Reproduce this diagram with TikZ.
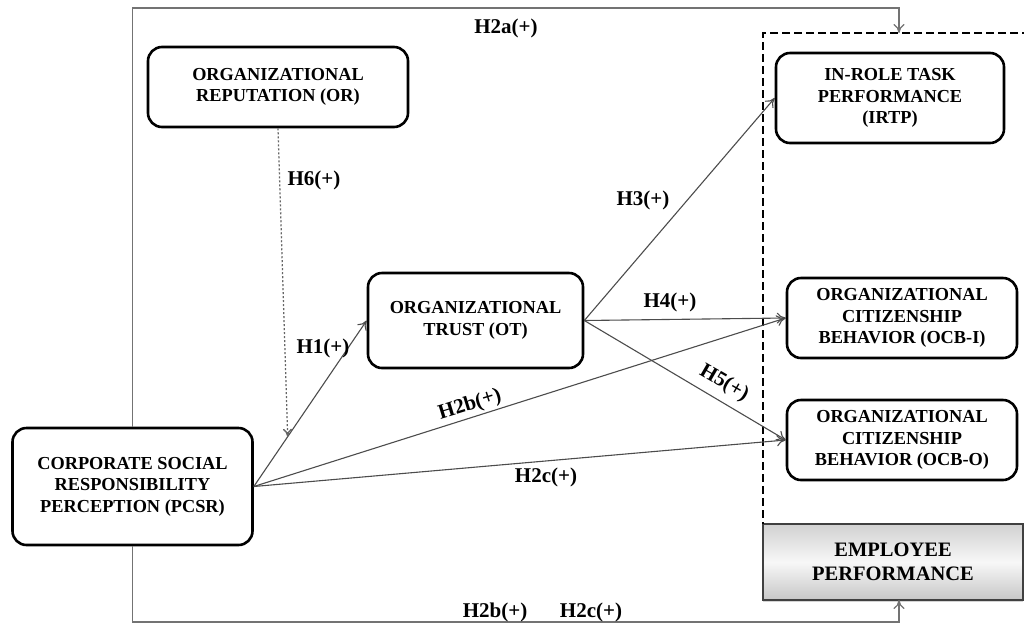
\documentclass[tikz,border=0pt]{standalone}
\usepackage{fontspec}
\setmainfont{Liberation Serif}
\usetikzlibrary{arrows.meta,shadows}
\begin{document}
\begin{tikzpicture}[x=1pt,y=-1pt,
  box/.style={draw=black,line width=2.6pt,rounded corners=14pt,fill=white,align=center,
    font=\fontsize{18.3}{21.5}\selectfont\bfseries,inner sep=2pt},
  conn/.style={draw=black!70,line width=1.1pt,-{To[length=9pt,width=11pt]}},
  frame/.style={draw=black!55,line width=1.2pt},
  lab/.style={font=\fontsize{21}{24}\selectfont\bfseries,inner sep=1pt},
  >={To[length=9pt,width=11pt]}]
\useasboundingbox (0,0) rectangle (1024,625);
% nodes
\node[box,minimum width=260pt,minimum height=80pt] (OR) at (278,87) {ORGANIZATIONAL\\REPUTATION (OR)};
\node[box,minimum width=240pt,minimum height=117pt] (PCSR) at (132.5,486.5) {CORPORATE SOCIAL\\RESPONSIBILITY\\PERCEPTION (PCSR)};
\node[box,minimum width=215pt,minimum height=95pt] (OT) at (475.5,320.5) {ORGANIZATIONAL\\TRUST (OT)};
\node[box,minimum width=228pt,minimum height=90pt] (IRTP) at (890,98) {IN-ROLE TASK\\PERFORMANCE\\(IRTP)};
\node[box,minimum width=230pt,minimum height=80pt] (OCBI) at (902,318) {ORGANIZATIONAL\\CITIZENSHIP\\BEHAVIOR (OCB-I)};
\node[box,minimum width=230pt,minimum height=80pt] (OCBO) at (902,440) {ORGANIZATIONAL\\CITIZENSHIP\\BEHAVIOR (OCB-O)};
\node[draw=black!75,line width=1.2pt,minimum width=260pt,minimum height=76pt,
  top color=black!18,bottom color=black!22,middle color=black!3,
  drop shadow={shadow xshift=0pt,shadow yshift=-2pt,opacity=0.35},
  align=center,font=\fontsize{20.5}{24}\selectfont\bfseries] (EP) at (893,562) {EMPLOYEE\\PERFORMANCE};
% dashed group
\coordinate (dtop) at (899,33);
\draw[line width=2.8pt,dash pattern=on 8pt off 4pt] (1030,33) -- (763,33) -- (763,524);
% frame lines
\draw[frame,->] (PCSR.north) -- (132.5,8) -- (899,8) -- (dtop);
\draw[frame,->] (PCSR.south) -- (132.5,622) -- (899,622) -- (899,600);
% connectors
\draw[conn] (PCSR.east) -- (OT.west) coordinate[pos=0.3] (mod);
\draw[conn] (PCSR.east) -- (OCBI.west);
\draw[conn] (PCSR.east) -- (OCBO.west);
\draw[conn] (OT.east) -- (IRTP.west);
\draw[conn] (OT.east) -- (OCBI.west);
\draw[conn] (OT.east) -- (OCBO.west);
\draw[draw=black!60,line width=1.3pt,dash pattern=on 2pt off 2pt,-{To[length=8pt,width=9pt]}] (OR.south) -- (mod);
% labels
\node[lab] (l2a) at (506,28) {H2a(+)};
\node[lab] (l6) at (314,180) {H6(+)};
\node[lab] (l3) at (643,200) {H3(+)};
\node[lab] (l4) at (670,302) {H4(+)};
\node[lab] (l1) at (323,348) {H1(+)};
\node[lab,rotate=17] (l2b) at (470,405) {H2b(+)};
\node[lab,rotate=-30] (l5) at (724,383) {H5(+)};
\node[lab] (l2c) at (546,477) {H2c(+)};
\node[lab] (l2bb) at (495,612) {H2b(+)};
\node[lab] (l2cb) at (591,612) {H2c(+)};
\end{tikzpicture}
\end{document}
